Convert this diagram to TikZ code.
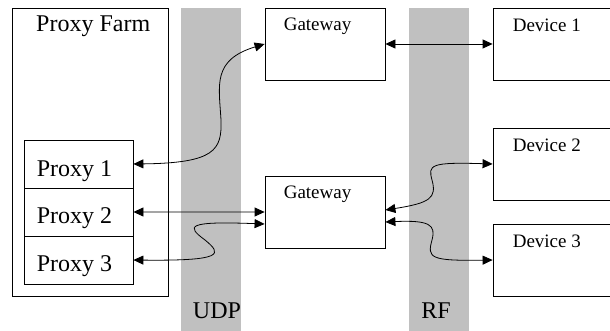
\documentclass[tikz,border=0pt]{standalone}
\usepackage{fontspec}
\setmainfont{Liberation Serif}
\usetikzlibrary{arrows.meta,calc,positioning}
\definecolor{bandgray}{RGB}{192,192,192}

\begin{document}
\begin{tikzpicture}[x=1pt,y=-1pt]
        \tikzset{box/.style={draw,line width=0.8pt,inner sep=0pt,fill=white},
            band/.style={fill=bandgray,draw=none,inner sep=0pt,minimum width=60pt,minimum height=323pt},
            biglbl/.style={inner sep=0pt,font=\fontsize{24}{28}\selectfont},
            smalllbl/.style={inner sep=0pt,font=\fontsize{19}{22}\selectfont},
            link/.style={{Triangle[length=10pt,width=9pt]}-{Triangle[length=10pt,width=9pt]},line width=0.8pt}}
        \useasboundingbox (0,0) rectangle (610,331);
        % UDP and RF bands
        \node[band] (udp) at (211,169.5) {};
        \node[band] (rf) at (439,169.5) {};
        \node[biglbl,anchor=base] (udpt) at (217,318) {UDP};
        \node[biglbl,anchor=base] (rft) at (436,318) {RF};
        % proxy farm
        \node[box,minimum width=156pt,minimum height=288pt] (farm) at (90,152) {};
        \node[biglbl,anchor=base west] (farmt) at (36,32) {Proxy Farm};
        \node[box,minimum width=109pt,minimum height=48pt] (p1) at (78.5,164) {};
        \node[box,minimum width=109pt,minimum height=48pt,below=-0.8pt of p1] (p2) {};
        \node[box,minimum width=109pt,minimum height=48pt,below=-0.8pt of p2] (p3) {};
        \node[biglbl,anchor=base west] (p1t) at ($(p1.west)+(13,13)$) {Proxy 1};
        \node[biglbl,anchor=base west] (p2t) at ($(p2.west)+(13,11)$) {Proxy 2};
        \node[biglbl,anchor=base west] (p3t) at ($(p3.west)+(13,11)$) {Proxy 3};
        % gateways
        \node[box,minimum width=120pt,minimum height=72pt] (gw1) at (325,44) {};
        \node[box,minimum width=120pt,minimum height=72pt] (gw2) at (325,212) {};
        \node[smalllbl,anchor=base west] (gw1t) at ($(gw1.north west)+(19,23)$) {Gateway};
        \node[smalllbl,anchor=base west] (gw2t) at ($(gw2.north west)+(19,23)$) {Gateway};
        % devices
        \node[box,minimum width=132pt,minimum height=72pt] (dev1) at (559,44) {};
        \node[box,minimum width=132pt,minimum height=72pt] (dev2) at (559,164) {};
        \node[box,minimum width=132pt,minimum height=72pt] (dev3) at (559,260) {};
        \node[smalllbl,anchor=base west] (dev1t) at ($(dev1.north west)+(20,24)$) {Device 1};
        \node[smalllbl,anchor=base west] (dev2t) at ($(dev2.north west)+(20,24)$) {Device 2};
        \node[smalllbl,anchor=base west] (dev3t) at ($(dev3.north west)+(20,24)$) {Device 3};
        % links
        \draw[link] (p1.east) .. controls (215,163) and (222,150) .. (221,120)
            .. controls (219,85) and (212,60) .. (gw1.west);
        \draw[link] (p2.east) -- (gw2.west);
        \draw[link] (p3.east) .. controls (225,261) and (222,254) .. (205,240)
            .. controls (186,226) and (186,221) .. ($(gw2.west)+(0,12)$);
        \draw[link] (gw1.east) -- (dev1.west);
        \draw[link] ($(gw2.east)+(0,-2)$) .. controls (430,203) and (437,198) .. (432,180)
            .. controls (428,165) and (430,162) .. (dev2.west);
        \draw[link] ($(gw2.east)+(0,10)$) .. controls (430,220) and (436,225) .. (432,240)
            .. controls (427,258) and (430,261) .. (dev3.west);
    \end{tikzpicture}
\end{document}
